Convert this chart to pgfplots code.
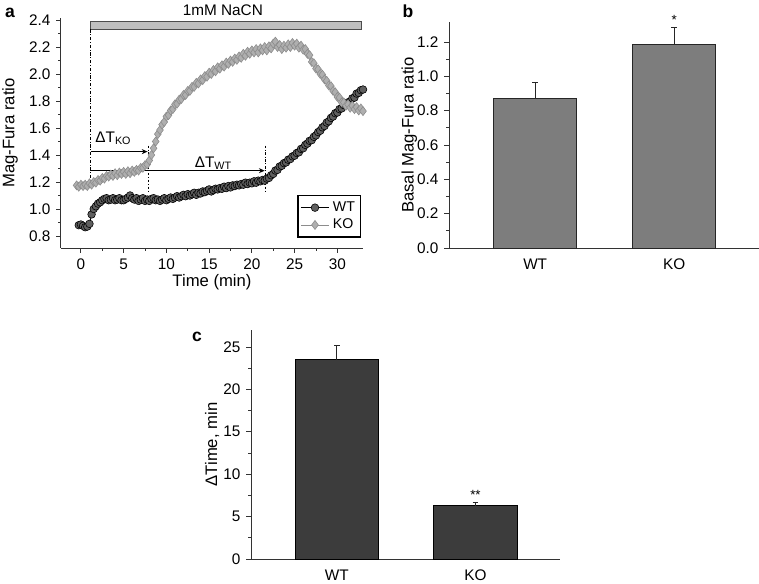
\documentclass[border=0pt]{standalone}
\usepackage{fontspec}
\setmainfont{Liberation Sans}
\usepackage{pgfplots}
\pgfplotsset{compat=1.18}
\usetikzlibrary{arrows.meta}

\definecolor{wtfill}{RGB}{95,95,95}
\definecolor{kogray}{RGB}{140,140,140}
\definecolor{kofill}{RGB}{175,175,175}
\definecolor{bargrayb}{RGB}{125,125,125}
\definecolor{bargrayc}{RGB}{60,60,60}

\newcommand\ticksize{\fontsize{9.2}{11}\selectfont}
\newcommand\labsize{\fontsize{10}{12}\selectfont}

% time course, panel a
\pgfplotstableread{
t v
-0.25 0.88
0 0.885
0.25 0.875
0.5 0.865
0.75 0.87
1.0 0.89
1.25 0.96
1.5 1.00
1.75 1.02
2.0 1.04
2.25 1.05
2.5 1.065
2.75 1.075
3.0 1.08
3.25 1.065
3.5 1.07
3.75 1.08
4.0 1.065
4.25 1.07
4.5 1.08
4.75 1.065
5.0 1.065
5.25 1.075
5.5 1.085
5.75 1.10
6.0 1.08
6.25 1.07
6.5 1.08
6.75 1.06
7.0 1.07
7.25 1.08
7.5 1.06
7.75 1.07
8.0 1.06
8.25 1.075
8.5 1.08
8.75 1.065
9.0 1.07
9.25 1.06
9.5 1.07
9.75 1.08
10.0 1.065
10.25 1.075
10.5 1.085
10.75 1.075
11.0 1.085
11.25 1.095
11.5 1.085
11.75 1.095
12.0 1.105
12.25 1.095
12.5 1.11
12.75 1.10
13.0 1.11
13.25 1.12
13.5 1.105
13.75 1.12
14.0 1.115
14.25 1.13
14.5 1.125
14.75 1.135
15.0 1.145
15.25 1.13
15.5 1.14
15.75 1.15
16.0 1.145
16.25 1.155
16.5 1.15
16.75 1.165
17.0 1.155
17.25 1.17
17.5 1.16
17.75 1.175
18.0 1.17
18.25 1.18
18.5 1.175
18.75 1.185
19.0 1.18
19.25 1.195
19.5 1.185
19.75 1.195
20.0 1.19
20.25 1.205
20.5 1.195
20.75 1.21
21.0 1.205
21.25 1.215
21.5 1.21
21.75 1.225
22.0 1.23
22.25 1.25
22.5 1.26
22.75 1.285
23.0 1.29
23.25 1.315
23.5 1.32
23.75 1.34
24.0 1.345
24.25 1.365
24.5 1.37
24.75 1.39
25.0 1.395
25.25 1.415
25.5 1.42
25.75 1.445
26.0 1.45
26.25 1.475
26.5 1.485
26.75 1.505
27.0 1.51
27.25 1.535
27.5 1.545
27.75 1.57
28.0 1.58
28.25 1.605
28.5 1.615
28.75 1.64
29.0 1.65
29.25 1.675
29.5 1.685
29.75 1.71
30.0 1.715
30.25 1.74
30.5 1.745
30.75 1.77
31.0 1.77
31.25 1.79
31.5 1.795
31.75 1.82
32.0 1.825
32.25 1.855
32.5 1.86
32.75 1.88
33.0 1.885
}\wtdata

\pgfplotstableread{
t v
-0.5 1.175
-0.25 1.165
0 1.18
0.25 1.17
0.5 1.18
0.75 1.17
1.0 1.19
1.25 1.18
1.5 1.20
1.75 1.195
2.0 1.215
2.25 1.21
2.5 1.23
2.75 1.225
3.0 1.245
3.25 1.24
3.5 1.255
3.75 1.245
4.0 1.265
4.25 1.25
4.5 1.27
4.75 1.26
5.0 1.275
5.25 1.26
5.5 1.28
5.75 1.265
6.0 1.285
6.25 1.275
6.5 1.29
6.75 1.285
7.0 1.305
7.25 1.305
7.5 1.325
7.75 1.33
8.0 1.36
8.25 1.40
8.5 1.45
8.75 1.50
9.0 1.555
9.25 1.585
9.5 1.625
9.75 1.645
10.0 1.685
10.25 1.695
10.5 1.73
10.75 1.74
11.0 1.775
11.25 1.78
11.5 1.81
11.75 1.815
12.0 1.845
12.25 1.845
12.5 1.875
12.75 1.875
13.0 1.905
13.25 1.905
13.5 1.935
13.75 1.93
14.0 1.96
14.25 1.955
14.5 1.985
14.75 1.98
15.0 2.01
15.25 2.00
15.5 2.03
15.75 2.02
16.0 2.05
16.25 2.04
16.5 2.065
16.75 2.055
17.0 2.085
17.25 2.075
17.5 2.10
17.75 2.09
18.0 2.115
18.25 2.105
18.5 2.13
18.75 2.12
19.0 2.15
19.25 2.135
19.5 2.165
19.75 2.15
20.0 2.175
20.25 2.16
20.5 2.185
20.75 2.16
21.0 2.19
21.25 2.175
21.5 2.20
21.75 2.175
22.0 2.205
22.25 2.19
22.5 2.225
22.75 2.24
23.0 2.20
23.25 2.215
23.5 2.185
23.75 2.21
24.0 2.195
24.25 2.22
24.5 2.20
24.75 2.23
25.0 2.21
25.25 2.225
25.5 2.195
25.75 2.21
26.0 2.18
26.25 2.185
26.5 2.15
26.75 2.14
27.0 2.09
27.25 2.08
27.5 2.04
27.75 2.035
28.0 2.00
28.25 1.995
28.5 1.96
28.75 1.95
29.0 1.915
29.25 1.91
29.5 1.875
29.75 1.865
30.0 1.83
30.25 1.825
30.5 1.79
30.75 1.79
31.0 1.765
31.25 1.775
31.5 1.75
31.75 1.765
32.0 1.74
32.25 1.755
32.5 1.73
32.75 1.745
33.0 1.725
}\kodata

\pgfplotsset{
  fig style/.style={
    scale only axis,
    axis lines*=left,
    axis line style={black!80, line width=0.6pt},
    tick align=outside,
    tick style={black!80, line width=0.5pt},
    major tick length=2.8pt,
    minor tick length=1.6pt,
    tick label style={font=\ticksize},
    label style={font=\labsize},
    /pgf/number format/assume math mode=true,
    clip=false,
  },
  bar style/.style={
    fig style,
    xmin=-0.62, xmax=1.61,
    xtick={0,1}, xticklabels={WT,KO},
    major x tick style={draw=none},
    ymin=0,
    minor y tick num=1,
    bar width=0.6,
  },
}

\begin{document}
\begin{tikzpicture}
\path[use as bounding box] (0,0) rectangle (455.4pt,-350.4pt);

%% ---- panel a: Mag-Fura time course
\begin{axis}[
  fig style,
  at={(36.6pt,-148.8pt)}, anchor=south west,
  width=181.2pt, height=138pt,
  xmin=-2.33, xmax=33,
  ymin=0.711, ymax=2.415,
  xtick={0,5,...,30}, minor x tick num=1,
  ytick={0.8,1.0,...,2.41}, minor y tick num=1,
  yticklabel style={/pgf/number format/.cd,fixed,fixed zerofill,precision=1},
  xlabel={Time (min)},
  ylabel={Mag-Fura ratio},
  xlabel style={at={(axis description cs:0.5,-0.148)}, anchor=center},
  ylabel style={at={(axis description cs:-0.169,0.5)}, anchor=center},
  legend style={at={(0.995,0.045)}, anchor=south east, draw=black,
    line width=0.8pt, font=\fontsize{8.5}{9.5}\selectfont,
    inner sep=1.5pt, row sep=-1pt},
  legend cell align=left,
]
\addplot[black, line width=0.5pt, mark=*, mark size=2.3pt,
  mark options={fill=wtfill, draw=black, line width=0.35pt}]
  table[x=t, y=v] {\wtdata};
\addlegendentry{WT}
\addplot[kogray, line width=0.5pt, mark=diamond*, mark size=2.7pt,
  mark options={fill=kofill, draw=kogray, line width=0.35pt}]
  table[x=t, y=v] {\kodata};
\addlegendentry{KO}

% NaCN application bar
\draw[black!70, fill=black!25, line width=0.5pt] (1.15,2.33) rectangle (32.8,2.39);
\node[font=\ticksize] at (16.6,2.474) {1mM NaCN};
% onset markers
\draw[black, line width=0.5pt, dash pattern=on 2pt off 1pt on 0.6pt off 1pt]
  (1.15,2.33) -- (1.15,1.18);
\draw[black, line width=0.5pt, dash pattern=on 1.5pt off 1pt on 0.6pt off 1pt]
  (7.86,1.47) -- (7.86,1.13);
\draw[black, line width=0.5pt, dash pattern=on 1.5pt off 1pt on 0.6pt off 1pt]
  (21.56,1.47) -- (21.56,1.13);
\draw[black, line width=0.6pt, -{Stealth[length=3.5pt,width=3pt]}]
  (1.15,1.425) -- (7.8,1.425);
\draw[black, line width=0.6pt, -{Stealth[length=3.5pt,width=3pt]}]
  (1.15,1.284) -- (21.5,1.284);
\node[font=\ticksize] at (3.8,1.525) {ΔT\textsubscript{KO}};
\node[font=\ticksize] at (15.5,1.34) {ΔT\textsubscript{WT}};
\end{axis}

%% ---- panel b: basal ratio
\begin{axis}[
  bar style,
  at={(269.4pt,-148.8pt)}, anchor=south west,
  width=186pt, height=135.6pt,
  ymax=1.317,
  ytick={0,0.2,...,1.21},
  yticklabel style={/pgf/number format/.cd,fixed,fixed zerofill,precision=1},
  ylabel={Basal Mag-Fura ratio},
  ylabel style={at={(axis description cs:-0.128,0.5)}, anchor=center},
]
\addplot[ybar, fill=bargrayb, draw=black!85, line width=0.6pt,
  error bars/.cd, y dir=plus, y explicit,
  error bar style={black!85, line width=0.6pt},
  error mark options={black!85, mark size=1.7pt, line width=0.6pt, rotate=90}]
  coordinates {(0,0.87) +- (0,0.093) (1,1.183) +- (0,0.10)};
\node[font=\fontsize{8}{9}\selectfont, anchor=south, inner sep=1pt] at (1,1.29) {*};
\end{axis}

%% ---- panel c: delay
\begin{axis}[
  bar style,
  at={(150.6pt,-335.4pt)}, anchor=south west,
  width=185.4pt, height=137.4pt,
  xmax=1.61,
  ymax=27,
  ytick={0,5,...,25},
  ylabel={ΔTime, min},
  ylabel style={at={(axis description cs:-0.126,0.5)}, anchor=center},
]
\addplot[ybar, fill=bargrayc, draw=black, line width=0.6pt,
  error bars/.cd, y dir=plus, y explicit,
  error bar style={black!85, line width=0.6pt},
  error mark options={black!85, mark size=1.7pt, line width=0.6pt, rotate=90}]
  coordinates {(0,23.5) +- (0,1.7) (1,6.25) +- (0,0.4)};
\node[font=\fontsize{8}{9}\selectfont, anchor=south, inner sep=1pt] at (1,6.8) {**};
\end{axis}

\node[font=\fontsize{10.5}{12}\bfseries\selectfont] at (6pt,-7.8pt) {a};
\node[font=\fontsize{10.5}{12}\bfseries\selectfont] at (244.8pt,-6.6pt) {b};
\node[font=\fontsize{10.5}{12}\bfseries\selectfont] at (118.2pt,-202.2pt) {c};
\end{tikzpicture}
\end{document}
